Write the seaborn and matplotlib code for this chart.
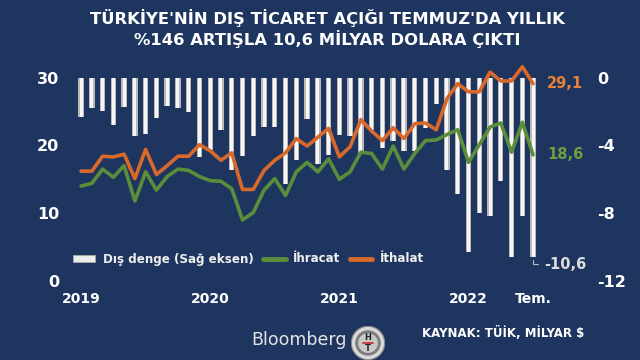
import numpy as np
import pandas as pd
import matplotlib
matplotlib.use('Agg')
import matplotlib.pyplot as plt
import seaborn as sns
from matplotlib.patches import Patch, Circle
from matplotlib.lines import Line2D

# veriler (milyar $), ocak 2019 - temmuz 2022
ithalat = [16.2, 16.2, 18.4, 18.3, 18.7, 15.1, 19.4, 15.7, 17.0, 18.4, 18.4, 20.1,
           19.2, 17.8, 18.9, 13.5, 13.5, 16.3, 17.8, 18.9, 21.0, 19.9, 21.2, 22.5,
           18.3, 19.8, 23.8, 22.1, 20.7, 22.6, 21.0, 23.2, 23.3, 22.3, 26.9, 29.1,
           27.9, 27.9, 30.8, 29.5, 29.5, 31.6, 29.1]
ihracat = [14.0, 14.4, 16.5, 15.3, 17.0, 11.8, 16.1, 13.4, 15.4, 16.5, 16.3, 15.4,
           14.8, 14.7, 13.6, 9.0, 10.1, 13.4, 15.1, 12.6, 16.1, 17.5, 16.1, 18.0,
           15.0, 16.1, 19.0, 18.8, 16.5, 19.9, 16.5, 18.8, 20.7, 20.8, 21.6, 22.3,
           17.5, 20.1, 22.7, 23.3, 19.0, 23.4, 18.6]
dis_denge = [-2.34, -1.81, -1.97, -2.79, -1.72, -3.47, -3.32, -2.40, -1.68, -1.81, -2.05, -4.68,
             -4.25, -3.08, -5.48, -4.60, -3.47, -2.89, -2.89, -6.30, -4.84, -2.46, -5.07, -4.58,
             -3.37, -3.43, -4.44, -3.12, -4.15, -3.76, -4.35, -4.35, -2.98, -1.56, -5.46, -6.84,
             -10.26, -7.99, -8.19, -6.12, -10.58, -8.15, -10.6]
x_etiket = ['2019', '2020', '2021', '2022', 'Tem.']
x_konum = [0, 12, 24, 36, 42]

df = pd.DataFrame({'ay': np.arange(len(ithalat)), 'ithalat': ithalat,
                   'ihracat': ihracat, 'denge': dis_denge})

lacivert = '#1e3560'
turuncu = '#d9692a'
yesil = '#5b8e3a'

sns.set_style('dark')
plt.rcParams['font.family'] = ['DejaVu Sans']

fig = plt.figure(figsize=(6.4, 3.6), dpi=100)
fig.patch.set_facecolor(lacivert)
ax = fig.add_axes([76/640, 79/360, 484/640, 217/360])
ax.set_facecolor(lacivert)
ax2 = ax.twinx()

# dis denge barlari (sag eksen) - kenarlari gri, ortasi beyaz
ax2.bar(df['ay'], df['denge'], width=0.5, color='#b9b9b9', linewidth=0, zorder=1)
ax2.bar(df['ay'], df['denge'], width=0.28, color='#f6f6f6', linewidth=0, zorder=2)

# ihracat / ithalat cizgileri (sol eksen)
ax.set_zorder(ax2.get_zorder() + 1)
ax.patch.set_visible(False)
sns.lineplot(data=df, x='ay', y='ithalat', ax=ax, color=turuncu, linewidth=2.6, clip_on=False)
sns.lineplot(data=df, x='ay', y='ihracat', ax=ax, color=yesil, linewidth=2.6, clip_on=False)

ax.set_xlim(-0.47, 44.5)
ax.set_ylim(0, 32)
ax2.set_ylim(-12, 0.8)
ax.set_yticks([0, 10, 20, 30])
ax2.set_yticks([-12, -8, -4, 0])
ax2.set_yticklabels(['-12', '-8', '-4', '0'])
ax.set_xticks(x_konum)
ax.set_xticklabels(x_etiket)
ax.set_xlabel('')
ax.set_ylabel('')
ax.grid(False)
ax2.grid(False)
for a in (ax, ax2):
    for s in a.spines.values():
        s.set_visible(False)
ax.tick_params(axis='y', length=0, pad=12, labelsize=11.5, labelcolor='white')
ax.tick_params(axis='x', length=0, pad=8, labelsize=10, labelcolor='white')
ax2.tick_params(axis='y', length=0, pad=27, labelsize=11.5, labelcolor='white')
for t in ax.get_xticklabels() + ax.get_yticklabels() + ax2.get_yticklabels():
    t.set_fontweight('bold')

# son deger etiketleri
ax.text(43.3, 29.1, '29,1', color='#e8823a', fontsize=10.5, fontweight='bold', va='center')
ax.text(43.3, 18.6, '18,6', color='#6f9e40', fontsize=10.5, fontweight='bold', va='center')
ax2.annotate('-10,6', xy=(42, -10.6), xytext=(43.0, -11.0), color='#dcdcdc',
             fontsize=10.5, fontweight='bold', va='center',
             arrowprops=dict(arrowstyle='-', color='#bbbbbb', lw=0.8,
                             connectionstyle='angle,angleA=0,angleB=90,rad=0'))

# lejant
handles = [Patch(facecolor='#ececec', edgecolor='#a9a9a9', linewidth=0.6),
           Line2D([0], [0], color=yesil, lw=3.5),
           Line2D([0], [0], color=turuncu, lw=3.5)]
fig.legend(handles, ['Dış denge (Sağ eksen)', 'İhracat', 'İthalat'], ncol=3,
           loc='center left', bbox_to_anchor=(62/640, 1 - 259/360), frameon=False,
           prop={'weight': 'bold', 'size': 8.6}, labelcolor='#eeeeee',
           handlelength=1.9, handleheight=0.5, handletextpad=0.6, columnspacing=0.8)

# baslik
fig.text(0.512, 1 - 18/360, "TÜRKİYE'NİN DIŞ TİCARET AÇIĞI TEMMUZ'DA YILLIK", ha='center', va='center',
         color='white', fontsize=11.8, fontweight='bold')
fig.text(0.512, 1 - 39/360, '%146 ARTIŞLA 10,6 MİLYAR DOLARA ÇIKTI', ha='center', va='center',
         color='white', fontsize=11.8, fontweight='bold')

# alt bilgi
fig.text(299/640, 1 - 340/360, 'Bloomberg', ha='center', va='center', color='#e4e4e4', fontsize=12.5)
lax = fig.add_axes([(368 - 17)/640, (360 - 343 - 17)/360, 34/640, 34/360])
lax.set_xlim(-1, 1)
lax.set_ylim(-1, 1)
lax.set_aspect('equal')
lax.axis('off')
lax.add_patch(Circle((0, 0), 0.98, facecolor='#d8d8d8', edgecolor='#8a8a8a', linewidth=0.8))
lax.add_patch(Circle((0, 0), 0.75, facecolor='#7d7d7d', linewidth=0))
lax.add_patch(Circle((0, 0), 0.58, facecolor='#c9c9c9', linewidth=0))
lax.text(0, 0.3, 'H', ha='center', va='center', color='#222222', fontsize=6, fontweight='bold')
lax.text(0, -0.32, 'T', ha='center', va='center', color='#222222', fontsize=6, fontweight='bold')
lax.plot([-0.3, 0.3], [0, 0], color='#c0282d', lw=1.2)
fig.text(503/640, 1 - 333/360, 'KAYNAK: TÜİK, MİLYAR $', ha='center', va='center', color='white',
         fontsize=8.5, fontweight='bold')

fig.savefig('out.png', dpi=100, facecolor=lacivert)
